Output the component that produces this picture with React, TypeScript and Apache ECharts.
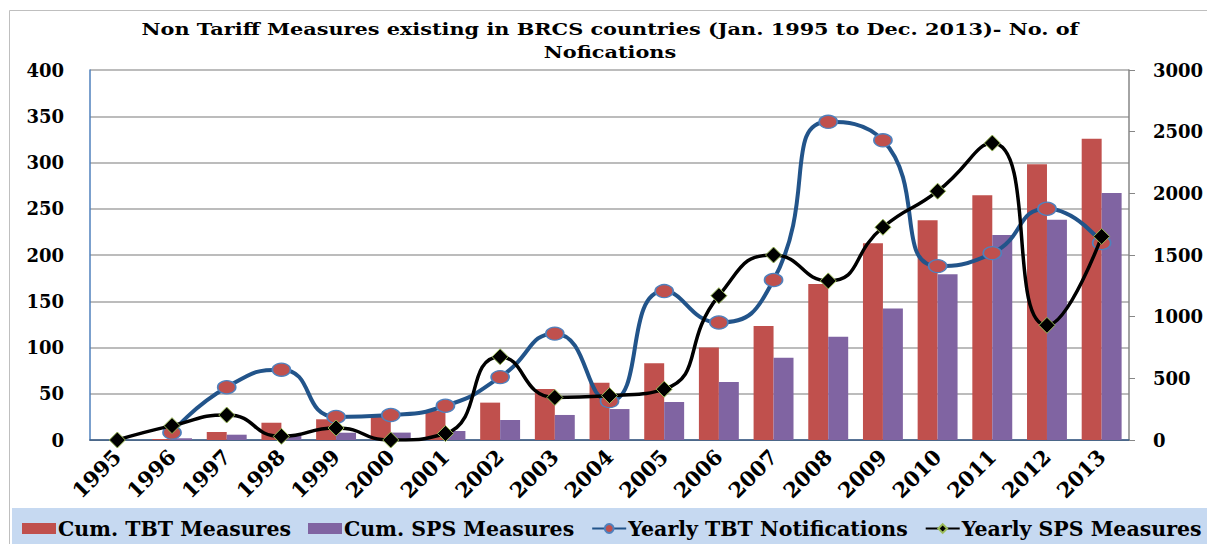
import React, { useEffect, useRef } from "react";
import * as echarts from "echarts";

const years = ["1995","1996","1997","1998","1999","2000","2001","2002","2003","2004","2005","2006","2007","2008","2009","2010","2011","2012","2013"];
const cumTBT = [0, 8, 65, 140, 168, 203, 236, 303, 413, 465, 622, 751, 924, 1265, 1595, 1781, 1984, 2235, 2443];
const cumSPS = [0, 14, 43, 47, 59, 60, 73, 162, 203, 251, 308, 470, 667, 838, 1067, 1343, 1662, 1786, 2003];
const yearlyTBT: (number | string)[] = ["-", 8, 57, 76, 25, 27, 37, 68, 115, 42, 161, 127, 173, 344, 324, 188, 202, 250, 213];
const yearlySPS = [0, 15.5, 27, 4, 13, 0, 7, 90, 46, 48, 55, 156, 200, 172, 230, 269, 321, 124, 220];

const titleText = "Non Tariff Measures existing in BRCS countries (Jan. 1995 to Dec. 2013)- No. of\nNofications";
const FONT = "DejaVu Serif";

export default function App() {
  const ref = useRef<HTMLDivElement>(null);
  useEffect(() => {
    if (!ref.current) return;
    const chart = echarts.init(ref.current, undefined, { renderer: "svg" });
    chart.setOption({
      animation: false,
      backgroundColor: "#ffffff",
      textStyle: { fontFamily: FONT },
      graphic: [
        { type: "rect", z: -10, shape: { x: 9.5, y: 10.5, width: 1220, height: 560 }, style: { fill: "#ffffff", stroke: "#BFBFBF", lineWidth: 1 } },
        { type: "rect", z: -5, shape: { x: 12, y: 508, width: 1200, height: 40 }, style: { fill: "#C6D9F1" } },
        {
          type: "text",
          x: 610,
          y: 18,
          scaleX: 1.19,
          style: {
            text: titleText,
            fontFamily: FONT,
            fontWeight: "bold",
            fontSize: 17.5,
            lineHeight: 23,
            fill: "#000",
            textAlign: "center",
          },
        },
      ],
      legend: {
        left: 22,
        top: 518,
        width: 1185,
        padding: 0,
        itemGap: 17,
        itemWidth: 34,
        itemHeight: 11,
        textStyle: { fontFamily: FONT, fontWeight: "bold", fontSize: 20.5, color: "#000", padding: [0, 0, 0, -3] },
        data: [
          { name: "Cum. TBT Measures", icon: "rect" },
          { name: "Cum. SPS Measures", icon: "rect" },
          { name: "Yearly TBT Notifications" },
          { name: "Yearly SPS Measures" },
        ],
      },
      grid: { left: 90, right: 78, top: 70, bottom: 104 },
      xAxis: [
        {
          type: "category",
          data: years,
          axisLine: { lineStyle: { color: "#868686", width: 1 } },
          axisTick: { show: false },
          axisLabel: { rotate: 45, margin: 13, fontFamily: FONT, fontWeight: "bold", fontSize: 21, color: "#000" },
        },
        {
          type: "category",
          data: years,
          position: "top",
          axisLine: { lineStyle: { color: "#385D8A", width: 1.5 } },
          axisTick: { show: false },
          axisLabel: { show: false },
        },
      ],
      yAxis: [
        {
          type: "value",
          min: 0,
          max: 400,
          interval: 50,
          axisLine: { show: true, lineStyle: { color: "#4F81BD", width: 1.5 } },
          axisTick: { show: false },
          splitLine: { lineStyle: { color: "#A6A6A6", width: 1.5 } },
          axisLabel: { margin: 26, fontFamily: FONT, fontWeight: "bold", fontSize: 18, color: "#000" },
        },
        {
          type: "value",
          min: 0,
          max: 3000,
          interval: 500,
          position: "right",
          axisLine: { show: true, lineStyle: { color: "#868686", width: 1.5 } },
          axisTick: { show: true, length: 6, lineStyle: { color: "#868686" } },
          splitLine: { show: false },
          axisLabel: { margin: 24, fontFamily: FONT, fontWeight: "bold", fontSize: 18, color: "#000", formatter: (v: number) => String(v) },
        },
      ],
      series: [
        {
          name: "Cum. TBT Measures",
          type: "bar",
          yAxisIndex: 1,
          data: cumTBT,
          barGap: "0%",
          barCategoryGap: "27%",
          itemStyle: { color: "#C0504D" },
        },
        {
          name: "Cum. SPS Measures",
          type: "bar",
          yAxisIndex: 1,
          data: cumSPS,
          barGap: "0%",
          barCategoryGap: "27%",
          itemStyle: { color: "#8064A2" },
        },
        {
          name: "Yearly TBT Notifications",
          type: "line",
          yAxisIndex: 0,
          data: yearlyTBT,
          smooth: 0.55,
          z: 3,
          symbol: "circle",
          symbolSize: [18, 13],
          lineStyle: { color: "#22548A", width: 4 },
          itemStyle: { color: "#C0504D", borderColor: "#4F81BD", borderWidth: 1.5 },
        },
        {
          name: "Yearly SPS Measures",
          type: "line",
          yAxisIndex: 0,
          data: yearlySPS,
          smooth: 0.55,
          z: 4,
          symbol: "diamond",
          symbolSize: 16,
          lineStyle: { color: "#000000", width: 3.5 },
          itemStyle: { color: "#000000", borderColor: "#9BBB59", borderWidth: 1 },
        },
      ],
    });
    return () => chart.dispose();
  }, []);
  return <div ref={ref} style={{ position: "fixed", left: 0, top: 0, width: 1207, height: 544 }} />;
}
